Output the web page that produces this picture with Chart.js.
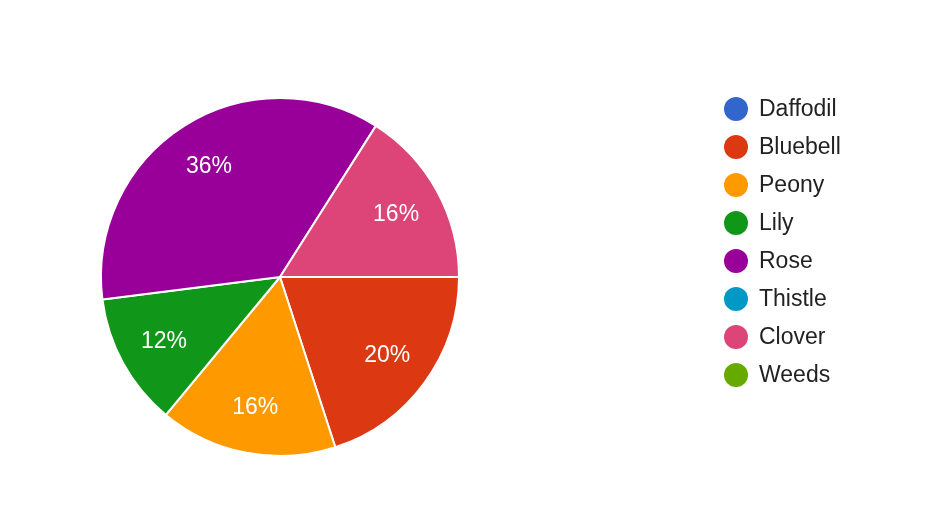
<!DOCTYPE html>
<html lang="en">
<head>
  <meta charset="UTF-8">
  <title>Flowers</title>
  <script src="https://cdn.jsdelivr.net/npm/chart.js"></script>
  <style>
    body {
      margin: 0;
      background: #fff;
    }
    #wrap {
      width: 937px;
      height: 506px;
    }
  </style>
</head>
<body>
  <div id="wrap">
    <canvas id="pieChart" width="937" height="506"></canvas>
  </div>

  <script>
    const labels = ['Daffodil', 'Bluebell', 'Peony', 'Lily', 'Rose', 'Thistle', 'Clover', 'Weeds'];
    const counts = [0, 5, 4, 3, 9, 0, 4, 0];
    const colors = ['#3366cc', '#dc3912', '#ff9900', '#109618', '#990099', '#0099c6', '#dd4477', '#66aa00'];

    const fontFamily = 'Arial, "Liberation Sans", sans-serif';

    // percentages written inside each slice
    const sliceLabels = {
      id: 'sliceLabels',
      afterDatasetsDraw(chart) {
        const ctx = chart.ctx;
        const meta = chart.getDatasetMeta(0);
        const data = chart.data.datasets[0].data;
        const total = data.reduce((a, b) => a + b, 0);
        ctx.save();
        ctx.fillStyle = '#ffffff';
        ctx.font = '23px ' + fontFamily;
        ctx.textAlign = 'center';
        ctx.textBaseline = 'middle';
        meta.data.forEach((arc, i) => {
          if (!data[i]) return;
          const mid = (arc.startAngle + arc.endAngle) / 2;
          const r = arc.outerRadius * 0.74;
          const pct = Math.round(data[i] / total * 100) + '%';
          ctx.fillText(pct, arc.x + Math.cos(mid) * r, arc.y + Math.sin(mid) * r + 1);
        });
        ctx.restore();
      }
    };

    // legend on the right, circle + name
    const sideLegend = {
      id: 'sideLegend',
      afterDraw(chart) {
        const ctx = chart.ctx;
        const x = 736, y0 = 109, step = 38;
        ctx.save();
        ctx.font = '23px ' + fontFamily;
        ctx.textBaseline = 'middle';
        ctx.textAlign = 'left';
        chart.data.labels.forEach((name, i) => {
          const y = y0 + i * step;
          ctx.beginPath();
          ctx.arc(x, y, 12, 0, Math.PI * 2);
          ctx.fillStyle = chart.data.datasets[0].backgroundColor[i];
          ctx.fill();
          ctx.fillStyle = '#222222';
          ctx.fillText(name, x + 23, y + 1);
        });
        ctx.restore();
      }
    };

    new Chart(document.getElementById('pieChart'), {
      type: 'pie',
      data: {
        labels: labels,
        datasets: [{
          data: counts,
          backgroundColor: colors,
          borderColor: '#ffffff',
          borderWidth: 2
        }]
      },
      options: {
        responsive: false,
        animation: false,
        rotation: 90,
        radius: 179,
        layout: {
          padding: { left: 101, top: 98, right: 478, bottom: 50 }
        },
        plugins: {
          legend: { display: false },
          tooltip: { enabled: false }
        }
      },
      plugins: [sliceLabels, sideLegend]
    });
  </script>
</body>
</html>
